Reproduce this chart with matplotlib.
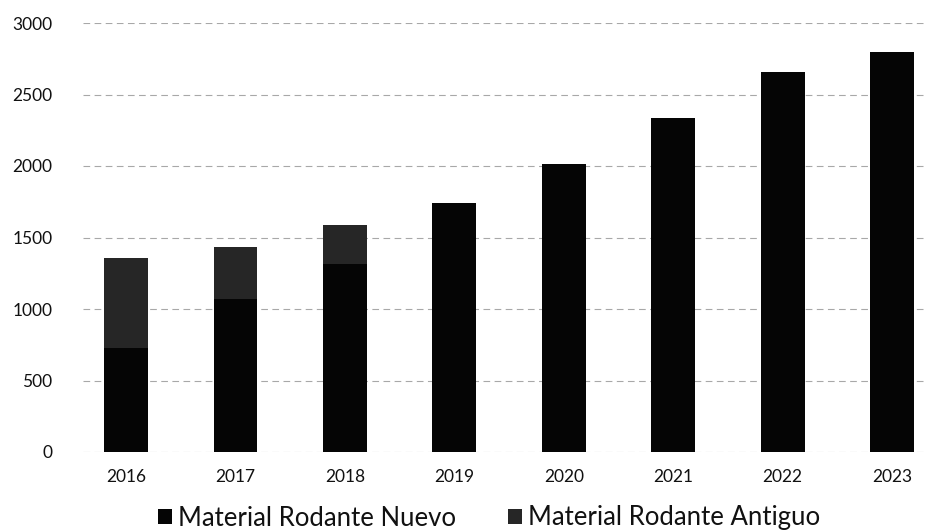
import matplotlib
matplotlib.use("Agg")
import matplotlib.pyplot as plt
import numpy as np

years = ["2016", "2017", "2018", "2019", "2020", "2021", "2022", "2023"]
nuevo = [730, 1070, 1315, 1740, 2015, 2335, 2655, 2800]
antiguo = [630, 365, 275, 0, 0, 0, 0, 0]
yticks = [0, 500, 1000, 1500, 2000, 2500, 3000]

plt.rcParams['font.family'] = ['Lato', 'DejaVu Sans']

fig = plt.figure(figsize=(9.32, 5.32), dpi=100)
W, H = 932, 532
ax = fig.add_axes([83 / W, 1 - 452 / H, (925 - 83) / W, (452 - 23) / H])

x = np.arange(len(years))
ax.bar(x, nuevo, width=0.40, color='#050505', zorder=3, label='Material Rodante Nuevo')
ax.bar(x, antiguo, width=0.40, bottom=nuevo, color='#262626', zorder=3,
       label='Material Rodante Antiguo')

ax.set_ylim(0, 3000)
ax.set_xlim(-0.393, 7.30)
ax.set_yticks(yticks)
ax.set_xticks(x)
ax.set_xticklabels(years)
ax.yaxis.grid(True, color='#a8a8a8', linewidth=0.8, linestyle=(0, (6, 4)), zorder=0)
for s in ax.spines.values():
    s.set_visible(False)
ax.tick_params(axis='both', length=0, labelsize=12.5, colors='#111111')
ax.tick_params(axis='y', pad=22)
ax.tick_params(axis='x', pad=12)

leg = fig.legend(loc='center', bbox_to_anchor=(489 / W, 1 - 518 / H), ncol=2,
                 frameon=False, fontsize=18.5, handlelength=0.55, handleheight=0.55,
                 handletextpad=0.25, columnspacing=2.0, borderpad=0.1)
for t in leg.get_texts():
    t.set_color('#111111')

fig.savefig('out.png', dpi=100)
